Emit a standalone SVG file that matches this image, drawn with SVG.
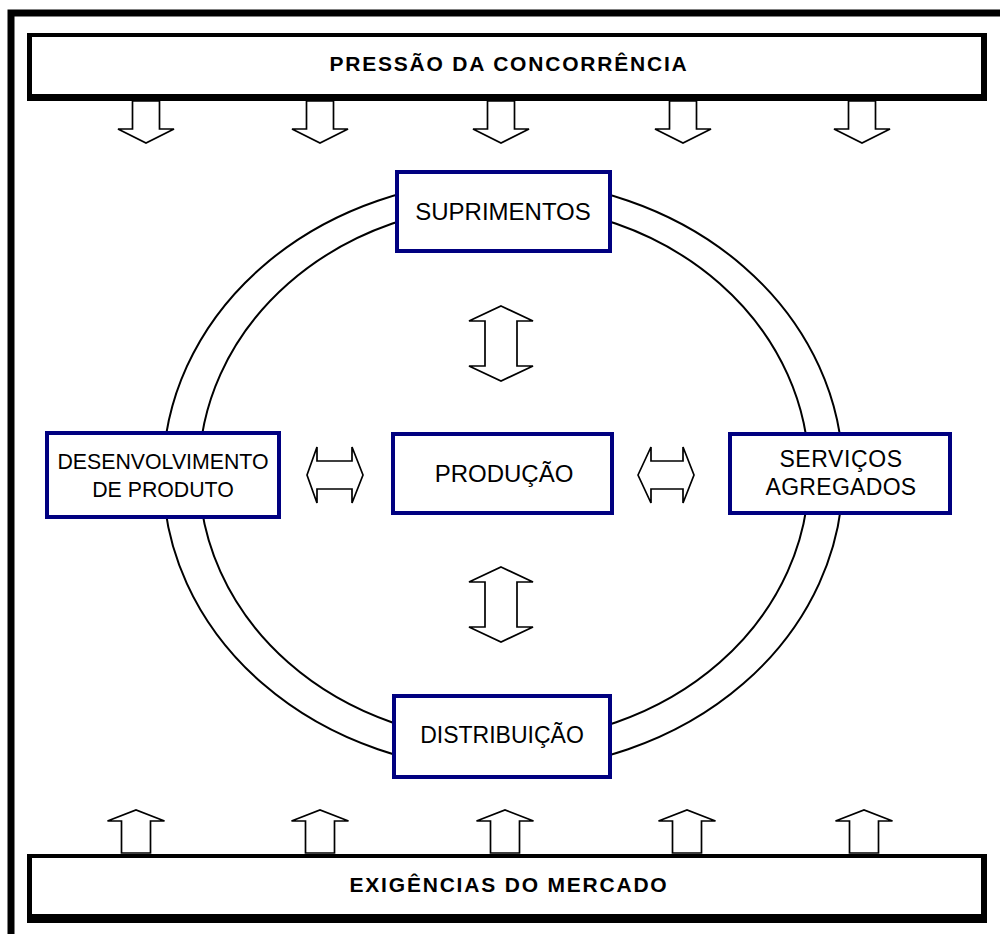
<svg xmlns="http://www.w3.org/2000/svg" width="1000" height="934" viewBox="0 0 1000 934">
<style>
.bar{fill:#000}
.barin{fill:#fff}
.node{fill:#fff;stroke:#000080;stroke-width:4}
.ring{fill:none;stroke:#000;stroke-width:2}
.arr{fill:#fff;stroke:#000;stroke-width:1.7;stroke-linejoin:miter}
.bt{font-family:"Liberation Sans",Arial,sans-serif;font-weight:bold;font-size:21px;letter-spacing:1.8px;fill:#000}
.nt{font-family:"Liberation Sans",Arial,sans-serif;font-size:23px;fill:#000}
</style>
<rect x="0" y="0" width="1000" height="934" fill="#fff"/>
<rect x="11" y="13" width="1100" height="1100" fill="none" stroke="#000" stroke-width="7"/>

<g id="pressao">
<rect class="bar" x="27" y="33" width="960" height="68"/>
<rect class="barin" x="32" y="37" width="949" height="57"/>
<text class="bt" x="509" y="71" text-anchor="middle">PRESSÃO DA CONCORRÊNCIA</text>
</g>
<g id="exigencias">
<rect class="bar" x="27" y="854" width="960" height="69"/>
<rect class="barin" x="32" y="858" width="949" height="56"/>
<text class="bt" x="509" y="892" text-anchor="middle">EXIGÊNCIAS DO MERCADO</text>
</g>

<g id="ring">
<ellipse class="ring" cx="503" cy="475" rx="340" ry="295"/>
<ellipse class="ring" cx="504" cy="473" rx="305" ry="268"/>
</g>

<g id="connectors">
<g id="down-arrows">
<path class="arr" d="M132.5,101 V129 H118 L146,143 L174,129 H159.5 V101 Z"/>
<path class="arr" d="M306.5,101 V129 H292 L320,143 L348,129 H333.5 V101 Z"/>
<path class="arr" d="M487.5,101 V129 H473 L501,143 L529,129 H514.5 V101 Z"/>
<path class="arr" d="M669.5,101 V129 H655 L683,143 L711,129 H696.5 V101 Z"/>
<path class="arr" d="M848.5,101 V129 H834 L862,143 L890,129 H875.5 V101 Z"/>
</g>
<g id="up-arrows">
<path class="arr" d="M121.5,853 V821 H107.5 L136,810 L164.5,821 H150.5 V853 Z"/>
<path class="arr" d="M305.5,853 V821 H291.5 L320,810 L348.5,821 H334.5 V853 Z"/>
<path class="arr" d="M490.5,853 V821 H476.5 L505,810 L533.5,821 H519.5 V853 Z"/>
<path class="arr" d="M672.5,853 V821 H658.5 L687,810 L715.5,821 H701.5 V853 Z"/>
<path class="arr" d="M849.5,853 V821 H835.5 L864,810 L892.5,821 H878.5 V853 Z"/>
</g>
<path id="arr-sup-prod" class="arr" d="M501,306 L533,321 H517 V366 H533 L501,381 L469,366 H485 V321 H469 Z"/>
<path id="arr-prod-dist" class="arr" d="M501,567 L533,582 H517 V627 H533 L501,642 L469,627 H485 V582 H469 Z"/>
<path id="arr-des-prod" class="arr" d="M307,475 L317,447 V461 H352 V447 L363,475 L352,503 V489 H317 V503 Z"/>
<path id="arr-prod-serv" class="arr" d="M638,475 L651,447 V461 H683 V447 L694,475 L683,503 V489 H651 V503 Z"/>
</g>

<g id="suprimentos">
<rect class="node" x="397" y="172" width="213" height="79"/>
<text class="nt" x="503" y="220" text-anchor="middle" style="font-size:24px">SUPRIMENTOS</text>
</g>
<g id="desenvolvimento">
<rect class="node" x="47" y="433" width="232" height="84"/>
<text class="nt" x="163" y="469" text-anchor="middle" style="font-size:21.3px">DESENVOLVIMENTO</text>
<text class="nt" x="163" y="497" text-anchor="middle" style="font-size:21.3px">DE PRODUTO</text>
</g>
<g id="producao">
<rect class="node" x="393" y="434" width="219" height="79"/>
<text class="nt" x="504" y="482" text-anchor="middle" style="font-size:24px">PRODUÇÃO</text>
</g>
<g id="servicos">
<rect class="node" x="730" y="434" width="220" height="79"/>
<text class="nt" x="841" y="467" text-anchor="middle" style="letter-spacing:0.6px">SERVIÇOS</text>
<text class="nt" x="841" y="495" text-anchor="middle" style="letter-spacing:0.3px">AGREGADOS</text>
</g>
<g id="distribuicao">
<rect class="node" x="394" y="696" width="216" height="81"/>
<text class="nt" x="502" y="743" text-anchor="middle">DISTRIBUIÇÃO</text>
</g>
</svg>
